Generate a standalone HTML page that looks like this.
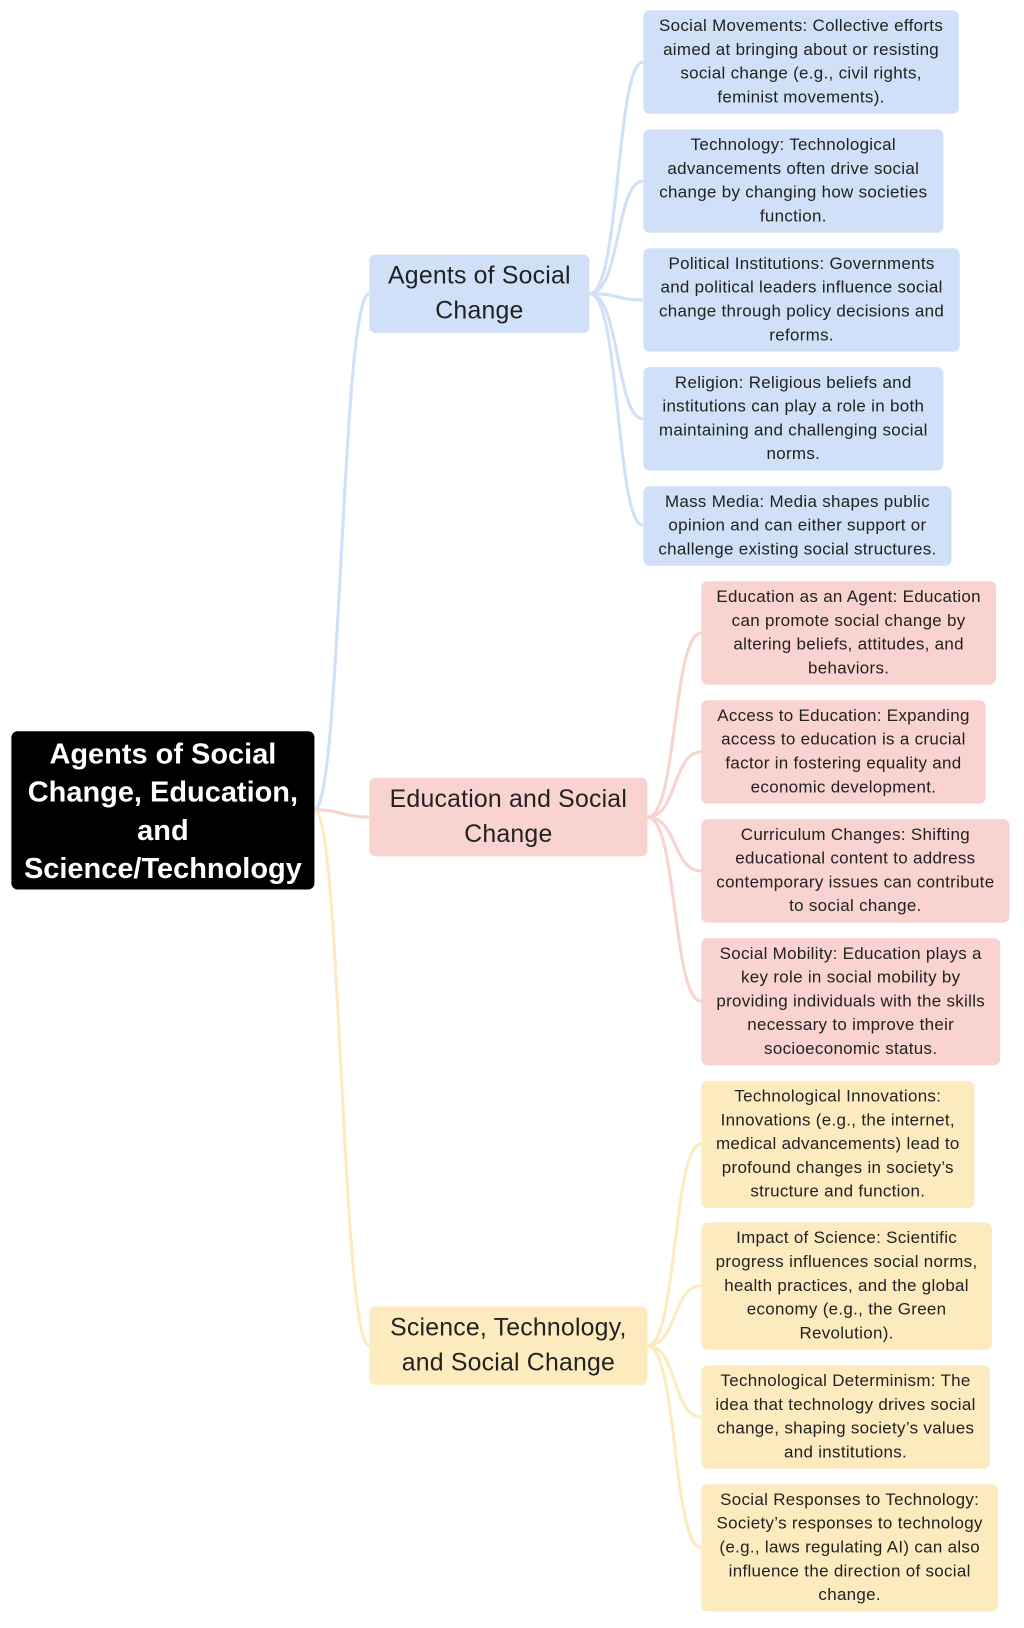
<!DOCTYPE html>
<html><head><meta charset="utf-8"><style>
body{margin:0;background:#fff;width:1024px;height:1628px;overflow:hidden}
#w{position:absolute;left:0;top:0;width:990px;height:1574px;transform:scale(1.0343);transform-origin:0 0;font-family:"Liberation Sans",sans-serif}
.b{position:absolute;box-sizing:border-box;display:flex;align-items:center;justify-content:center;text-align:center;border-radius:6px;font-size:16.4px;letter-spacing:0.3px;line-height:23px;color:#222;padding:0 9px}
.bl{background:#cfe0f8}.rd{background:#f8d3d0}.yl{background:#fdebc0}
.l1{font-size:24px;line-height:34px;color:#222;letter-spacing:0.2px}
svg{position:absolute;left:0;top:0}
</style></head><body><div id="w">
<svg width="990" height="1574" fill="none" stroke-width="3">
<g stroke="#cfe0f8">
<path d="M304,783 C330,783 330,284 357,284"/>
<path d="M570,284 C600,284 595,60 622,60"/>
<path d="M570,284 C600,284 595,175 622,175"/>
<path d="M570,284 C600,284 595,290 622,290"/>
<path d="M570,284 C600,284 595,405 622,405"/>
<path d="M570,284 C600,284 595,508 622,508"/>
</g>
<g stroke="#f8d3d0">
<path d="M304,783 C330,783 330,790 357,790"/>
<path d="M626,790 C655,790 650,612 678,612"/>
<path d="M626,790 C655,790 650,727 678,727"/>
<path d="M626,790 C655,790 650,842 678,842"/>
<path d="M626,790 C655,790 650,968 678,968"/>
</g>
<g stroke="#fdebc0">
<path d="M304,783 C330,783 330,1301 357,1301"/>
<path d="M626,1301 C655,1301 650,1106 678,1106"/>
<path d="M626,1301 C655,1301 650,1243 678,1243"/>
<path d="M626,1301 C655,1301 650,1370 678,1370"/>
<path d="M626,1301 C655,1301 650,1496 678,1496"/>
</g>
</svg>
<div class="b" style="left:11px;top:707px;width:293px;height:153px;background:#000;color:#fff;font-weight:bold;font-size:28px;line-height:37px;letter-spacing:0">Agents of Social Change, Education, and Science/Technology</div>
<div class="b bl l1" style="left:357px;top:246px;width:213px;height:76px">Agents of Social Change</div>
<div class="b rd l1" style="left:357px;top:752px;width:269px;height:76px">Education and Social Change</div>
<div class="b yl l1" style="left:357px;top:1263px;width:269px;height:76px">Science, Technology, and Social Change</div>
<div class="b bl" style="left:622px;top:10px;width:305px;height:100px">Social Movements: Collective efforts aimed at bringing about or resisting social change (e.g., civil rights, feminist movements).</div>
<div class="b bl" style="left:622px;top:125px;width:290px;height:100px">Technology: Technological advancements often drive social change by changing how societies function.</div>
<div class="b bl" style="left:622px;top:240px;width:306px;height:100px">Political Institutions: Governments and political leaders influence social change through policy decisions and reforms.</div>
<div class="b bl" style="left:622px;top:355px;width:290px;height:100px">Religion: Religious beliefs and institutions can play a role in both maintaining and challenging social norms.</div>
<div class="b bl" style="left:622px;top:470px;width:298px;height:77px">Mass Media: Media shapes public opinion and can either support or challenge existing social structures.</div>
<div class="b rd" style="left:678px;top:562px;width:285px;height:100px">Education as an Agent: Education can promote social change by altering beliefs, attitudes, and behaviors.</div>
<div class="b rd" style="left:678px;top:677px;width:275px;height:100px">Access to Education: Expanding access to education is a crucial factor in fostering equality and economic development.</div>
<div class="b rd" style="left:678px;top:792px;width:298px;height:100px">Curriculum Changes: Shifting educational content to address contemporary issues can contribute to social change.</div>
<div class="b rd" style="left:678px;top:907px;width:289px;height:123px">Social Mobility: Education plays a key role in social mobility by providing individuals with the skills necessary to improve their socioeconomic status.</div>
<div class="b yl" style="left:678px;top:1045px;width:264px;height:123px">Technological Innovations: Innovations (e.g., the internet, medical advancements) lead to profound changes in society’s structure and function.</div>
<div class="b yl" style="left:678px;top:1182px;width:281px;height:123px">Impact of Science: Scientific progress influences social norms, health practices, and the global economy (e.g., the Green Revolution).</div>
<div class="b yl" style="left:678px;top:1320px;width:279px;height:100px">Technological Determinism: The idea that technology drives social change, shaping society’s values and institutions.</div>
<div class="b yl" style="left:678px;top:1435px;width:287px;height:123px">Social Responses to Technology: Society’s responses to technology (e.g., laws regulating AI) can also influence the direction of social change.</div>
</div></body></html>
